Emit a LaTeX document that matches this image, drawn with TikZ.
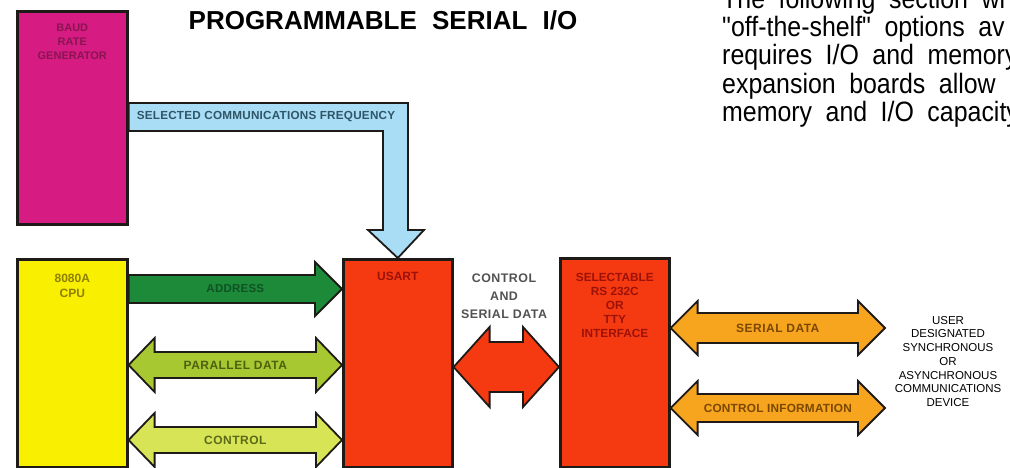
\documentclass[tikz,border=0pt]{standalone}
\usepackage{fontspec}
\setmainfont{Liberation Sans}
\newfontfamily\parafont{Liberation Sans}[Ligatures=TeXOff, FakeStretch=0.89]
\newfontfamily\lblfont{Liberation Sans}[LetterSpace=4]
\newfontfamily\lblfontn{Liberation Sans}[LetterSpace=2]
\usetikzlibrary{calc}
\definecolor{baudc}{HTML}{D61C82}
\definecolor{baudt}{HTML}{8A1452}
\definecolor{bluec}{HTML}{A8DDF5}
\definecolor{bluet}{HTML}{2F5566}
\definecolor{cpuc}{HTML}{F8F000}
\definecolor{cput}{HTML}{8F7F00}
\definecolor{addrc}{HTML}{1D8A3A}
\definecolor{addrt}{HTML}{0E5224}
\definecolor{pdatc}{HTML}{A8C832}
\definecolor{pdatt}{HTML}{4E6010}
\definecolor{ctrlc}{HTML}{D6E455}
\definecolor{ctrlt}{HTML}{5A6A18}
\definecolor{redc}{HTML}{F53A12}
\definecolor{redt}{HTML}{9C1208}
\definecolor{orc}{HTML}{F7A41E}
\definecolor{ort}{HTML}{7A4800}
\definecolor{edge}{HTML}{1E1A18}
\newcommand\fatdouble[6]{%
  \draw[#1] (#2) -- ($(#2)+(#6,-#5)$) -- ($(#2)+(#6,-#4)$) -- ($(#3)+(-#6,-#4)$)
    -- ($(#3)+(-#6,-#5)$) -- (#3) -- ($(#3)+(-#6,#5)$) -- ($(#3)+(-#6,#4)$)
    -- ($(#2)+(#6,#4)$) -- ($(#2)+(#6,#5)$) -- cycle;}
\newcommand\wideline[1]{{\parafont\fontsize{28}{28}\selectfont\spaceskip=13.5pt\relax #1}}
\begin{document}
\begin{tikzpicture}[x=1pt,y=-1pt,
  box/.style={draw=edge, line width=2.6pt, rectangle, inner sep=0pt, anchor=north west},
  fat/.style={draw=edge, line width=1.8pt, line join=miter},
  lbl/.style={font=\lblfont\fontsize{12}{14}\selectfont\bfseries, inner sep=0pt, align=center},
  para/.style={inner sep=0pt, anchor=base west},
  plain/.style={font=\fontsize{11.5}{13.7}\selectfont, inner sep=0pt, align=center}]
\useasboundingbox (0,0) rectangle (1010,468);
\fill[white] (0,0) rectangle (1010,468);

% boxes (geometry only, drawn later on top)
\path (16,10) node[box, minimum width=110pt, minimum height=213pt] (baud) {};
\path (16,258) node[box, minimum width=110pt, minimum height=208pt] (cpu) {};
\path (342,258) node[box, minimum width=109pt, minimum height=208pt] (usart) {};
\path (559,257) node[box, minimum width=109pt, minimum height=209pt] (iface) {};

% blue L-shaped arrow
\draw[fat, fill=bluec] (baud.east |- 0,103) -- (408,103) -- (408,230) -- (424,230)
  -- (usart.north) -- (368,230) -- (383,230) -- (383,131) -- (baud.east |- 0,131) -- cycle;
\node[lbl, font=\lblfontn\fontsize{11.7}{14}\selectfont\bfseries, text=bluet] (freq) at (266,117) {SELECTED COMMUNICATIONS FREQUENCY};

% address arrow
\coordinate (adL) at (cpu.east |- 0,289);
\coordinate (adR) at (usart.west |- 0,289);
\draw[fat, fill=addrc] ($(adL)+(0,-14)$) -- ($(adR)+(-27,-14)$) -- ($(adR)+(-27,-27)$)
  -- (adR) -- ($(adR)+(-27,27)$) -- ($(adR)+(-27,14)$) -- ($(adL)+(0,14)$) -- cycle;
\node[lbl, font=\lblfontn\fontsize{11.5}{14}\selectfont\bfseries, text=addrt] (addr) at ($(adL)!0.5!(adR)$) {ADDRESS};

% parallel data
\coordinate (pdL) at (cpu.east |- 0,365);
\coordinate (pdR) at (usart.west |- 0,365);
\fatdouble{fat, fill=pdatc}{pdL}{pdR}{13}{27}{26}
\node[lbl, text=pdatt] (pdat) at ($(pdL)!0.5!(pdR)$) {PARALLEL DATA};

% control
\coordinate (ctL) at (cpu.east |- 0,440);
\coordinate (ctR) at (usart.west |- 0,440);
\fatdouble{fat, fill=ctrlc}{ctL}{ctR}{13}{27}{26}
\node[lbl, text=ctrlt] (ctrl) at ($(ctL)!0.5!(ctR)$) {CONTROL};

% middle red arrow
\coordinate (mdL) at (usart.east |- 0,367);
\coordinate (mdR) at (iface.west |- 0,367);
\fatdouble{fat, fill=redc}{mdL}{mdR}{25}{40}{36}
\node[lbl, font=\lblfont\fontsize{12.4}{18}\selectfont\bfseries, text=black!68, anchor=north] (csd) at (504,274) {CONTROL\\AND\\SERIAL DATA};

% serial data / control information
\node[plain, anchor=north] (dev) at (948,316) {USER\\DESIGNATED\\SYNCHRONOUS\\OR\\ASYNCHRONOUS\\COMMUNICATIONS\\DEVICE};
\coordinate (sdL) at (iface.east |- 0,328);
\coordinate (sdR) at (885,328);
\fatdouble{fat, fill=orc}{sdL}{sdR}{15}{27}{27}
\node[lbl, text=ort] (sdat) at ($(sdL)!0.5!(sdR)$) {SERIAL DATA};
\coordinate (ciL) at (iface.east |- 0,408);
\coordinate (ciR) at (885,408);
\fatdouble{fat, fill=orc}{ciL}{ciR}{14}{27}{27}
\node[lbl, font=\lblfontn\fontsize{11.8}{14}\selectfont\bfseries, text=ort] (cinf) at ($(ciL)!0.5!(ciR)$) {CONTROL INFORMATION};

% boxes drawn on top
\path (16,10) node[box, fill=baudc, minimum width=110pt, minimum height=213pt] {};
\path (16,258) node[box, fill=cpuc, minimum width=110pt, minimum height=208pt] {};
\path (342,258) node[box, fill=redc, minimum width=109pt, minimum height=208pt] {};
\path (559,257) node[box, fill=redc, minimum width=109pt, minimum height=209pt] {};

\node[lbl, font=\fontsize{11}{14}\selectfont\bfseries, text=baudt, anchor=north] (baudl) at ($(baud.north)+(0,14)$) {BAUD\\RATE\\GENERATOR};
\node[lbl, font=\fontsize{12}{15}\selectfont\bfseries, text=cput, anchor=north] (cpul) at ($(cpu.north)+(0,16)$) {8080A\\CPU};
\node[lbl, font=\fontsize{12}{15}\selectfont\bfseries, text=redt, anchor=north] (usartl) at ($(usart.north)+(0,14)$) {USART};
\node[lbl, font=\fontsize{11.8}{14}\selectfont\bfseries, text=redt, anchor=north] (ifacel) at ($(iface.north)+(0,16)$) {SELECTABLE\\RS 232C\\OR\\TTY\\INTERFACE};

% title and text
\node[font=\fontsize{26}{30}\selectfont\bfseries, inner sep=0pt, anchor=base] (title) at (383,30) {PROGRAMMABLE\hspace{8pt} SERIAL\hspace{8pt} I/O};
\node[para] (p1) at (722,8.5) {\wideline{The following section wi}};
\node[para] (p2) at (722,36.75) {\wideline{"off-the-shelf" options av}};
\node[para] (p3) at (722,65) {\wideline{requires I/O and memory}};
\node[para] (p4) at (722,93.25) {\wideline{expansion boards allow}};
\node[para] (p5) at (722,121.5) {\wideline{memory and I/O capacity}};
\end{tikzpicture}
\end{document}
